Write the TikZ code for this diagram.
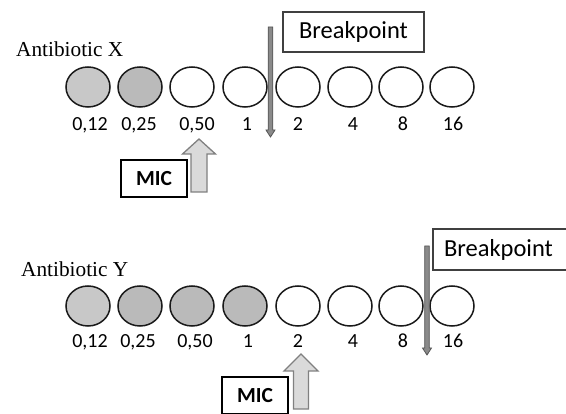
\documentclass[tikz,border=0pt]{standalone}
\usepackage{fontspec}
\setmainfont{Liberation Serif}
\newfontfamily\labelfont{Carlito}
\usetikzlibrary{shapes.geometric,calc}
\definecolor{lightwell}{HTML}{C8C8C8}
\definecolor{darkwell}{HTML}{BABABA}
\definecolor{micfill}{HTML}{DADADA}
\definecolor{micedge}{HTML}{808080}
\definecolor{bpfill}{HTML}{8A8A8A}
\definecolor{bpedge}{HTML}{555555}
\begin{document}
\begin{tikzpicture}[x=1pt,y=-1pt,
  well/.style={ellipse,draw=black!90,line width=1.5pt,minimum width=44pt,minimum height=40pt,inner sep=0pt},
  conc/.style={anchor=base,inner sep=0pt,font=\labelfont\fontsize{20}{20}\selectfont},
  drug/.style={anchor=base west,inner sep=0pt,font=\fontsize{21.3}{21.3}\selectfont},
  bpbox/.style={draw=black!75,line width=1.2pt,fill=white,inner sep=0pt,font=\labelfont\fontsize{24.5}{24.5}\selectfont},
  micbox/.style={draw=black,line width=1.3pt,fill=white,inner sep=0pt,minimum width=66pt,minimum height=37pt,font=\labelfont\bfseries\fontsize{21.5}{21.5}\selectfont},
  bparrow/.style={fill=bpfill,draw=bpedge,line width=0.8pt},
  micarrow/.style={fill=micfill,draw=micedge,line width=1.3pt,line join=miter}]
\clip (0,0) rectangle (566,414);

% ---------- Antibiotic X ----------
\node[drug] (drugX) at (16,57) {Antibiotic X};
\foreach \i/\x/\f in {1/88/lightwell,2/140/darkwell,3/192/white,4/245/white,
                      5/298/white,6/350/white,7/401/white,8/452/white}
  \node[well,fill=\f] (x\i) at (\x,87) {};
\foreach \i/\x/\t in {1/90/{0,12},2/139/{0,25},3/197/{0,50},4/247/1,
                      5/298/2,6/353/4,7/403/8,8/453/16}
  \node[conc] (lx\i) at (\x,131) {\t};

\node[bpbox,minimum width=141pt,minimum height=40pt] (bpX) at (353.5,32) {Breakpoint};
\coordinate (bpXtop) at (270.5,27);
\coordinate (bpXtip) at (270.5,137);
\path[bparrow] ($(bpXtop)+(-2.3,0)$) -- ($(bpXtop)+(2.3,0)$) -- ($(bpXtip)+(2.3,-7)$)
  -- ($(bpXtip)+(4.5,-7)$) -- (bpXtip) -- ($(bpXtip)+(-4.5,-7)$) -- ($(bpXtip)+(-2.3,-7)$) -- cycle;

\node[micbox] (micX) at (154,178.5) {MIC};
\coordinate (micXtip) at (199,139);
\coordinate (micXbase) at (199,192);
\path[micarrow] (micXtip) -- ($(micXtip)+(16.5,15)$) -- ($(micXtip)+(8,15)$) -- ($(micXbase)+(8,0)$)
  -- ($(micXbase)+(-8,0)$) -- ($(micXtip)+(-8,15)$) -- ($(micXtip)+(-16.5,15)$) -- cycle;

% ---------- Antibiotic Y ----------
\node[drug] (drugY) at (21,277) {Antibiotic Y};
\foreach \i/\x/\f in {1/88/lightwell,2/140/darkwell,3/192/darkwell,4/245/darkwell,
                      5/298/white,6/350/white,7/401/white,8/452/white}
  \node[well,fill=\f] (y\i) at (\x,306) {};
\foreach \i/\x/\t in {1/90/{0,12},2/138/{0,25},3/195/{0,50},4/248/1,
                      5/298/2,6/353/4,7/403/8,8/453/16}
  \node[conc] (ly\i) at (\x,348) {\t};

\node[bpbox,minimum width=137pt,minimum height=41pt] (bpY) at (501.5,249.5) {\hspace*{-6pt}Breakpoint};
\coordinate (bpYtop) at (427,246);
\coordinate (bpYtip) at (427,355);
\path[bparrow] ($(bpYtop)+(-2.3,0)$) -- ($(bpYtop)+(2.3,0)$) -- ($(bpYtip)+(2.3,-7)$)
  -- ($(bpYtip)+(4.5,-7)$) -- (bpYtip) -- ($(bpYtip)+(-4.5,-7)$) -- ($(bpYtip)+(-2.3,-7)$) -- cycle;

\node[micbox] (micY) at (255,395.5) {MIC};
\coordinate (micYtip) at (301,354);
\coordinate (micYbase) at (301,409);
\path[micarrow] (micYtip) -- ($(micYtip)+(17,17)$) -- ($(micYtip)+(7.5,17)$) -- ($(micYbase)+(7.5,0)$)
  -- ($(micYbase)+(-7.5,0)$) -- ($(micYtip)+(-7.5,17)$) -- ($(micYtip)+(-17,17)$) -- cycle;
\end{tikzpicture}
\end{document}
